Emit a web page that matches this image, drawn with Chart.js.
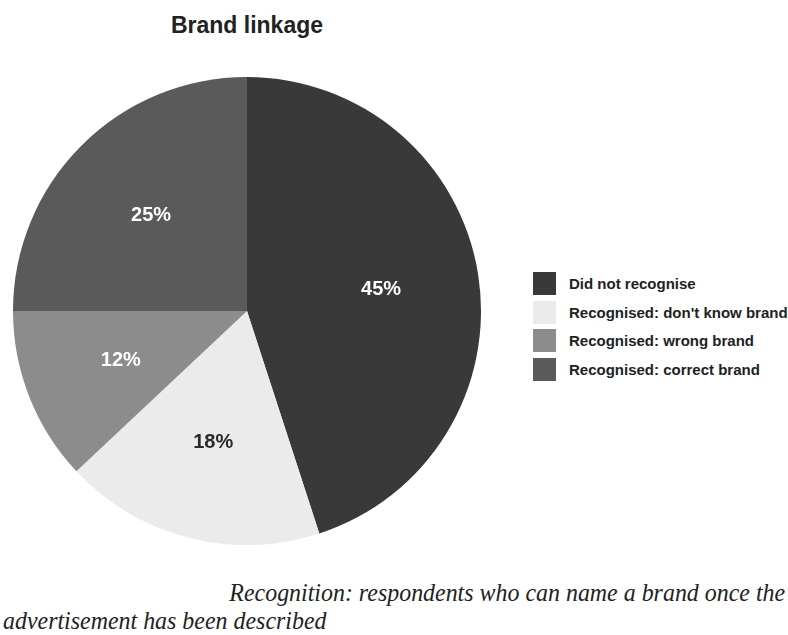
<!DOCTYPE html>
<html>
<head>
<meta charset="utf-8">
<script src="https://cdn.jsdelivr.net/npm/chart.js@4"></script>
<style>
  body { margin: 0; background: #fff; }
  #wrap { position: relative; width: 788px; height: 635px; overflow: hidden; font-family: "Liberation Sans", Arial, sans-serif; }
  #title { position: absolute; left: 0; width: 494px; top: 12px; text-align: center; font-weight: bold; font-size: 23px; color: #222; }
  #pie { position: absolute; left: 13px; top: 77px; width: 468px; height: 468px; }
  #legend { position: absolute; left: 533px; top: 269px; white-space: nowrap; }
  .row { height: 28.7px; display: flex; align-items: center; }
  .box { width: 23px; height: 23px; margin-right: 13px; }
  .row span { font-weight: bold; font-size: 15px; color: #222; }
  .cap { position: absolute; font-family: "Liberation Serif", "Times New Roman", serif; font-style: italic; font-size: 26px; color: #222; white-space: nowrap; }
</style>
</head>
<body>
<div id="wrap">
  <div id="title">Brand linkage</div>
  <div id="pie"><canvas id="myChart"></canvas></div>
  <div id="legend"></div>
  <div class="cap" style="right:3px; top:578px; transform:scaleX(0.92); transform-origin:right;">Recognition: respondents who can name a brand once the</div>
  <div class="cap" style="left:3px; top:606px; transform:scaleX(0.92); transform-origin:left;">advertisement has been described</div>
</div>
<script>
const categories = [
  "Did not recognise",
  "Recognised: don't know brand",
  "Recognised: wrong brand",
  "Recognised: correct brand",
];
const shares = [45, 18, 12, 25];

const sliceColors = ["#393939", "#ebebeb", "#8c8c8c", "#5a5a5a"];
const labelColors = ["#fff", "#2a2a2a", "#fff", "#fff"];

// percent labels inside each slice
const sliceLabels = {
  id: "sliceLabels",
  afterDatasetsDraw(chart) {
    const ctx = chart.ctx;
    const meta = chart.getDatasetMeta(0);
    ctx.save();
    ctx.font = "bold 20px 'Liberation Sans', Arial, sans-serif";
    ctx.textAlign = "center";
    ctx.textBaseline = "middle";
    meta.data.forEach(function (arc, i) {
      const p = arc.getProps(["x", "y", "startAngle", "endAngle", "outerRadius"], true);
      const mid = (p.startAngle + p.endAngle) / 2;
      const r = p.outerRadius * 0.58;
      ctx.fillStyle = labelColors[i];
      ctx.fillText(shares[i] + "%", p.x + Math.cos(mid) * r, p.y + Math.sin(mid) * r);
    });
    ctx.restore();
  }
};

new Chart(document.getElementById("myChart"), {
  type: "pie",
  data: {
    labels: categories,
    datasets: [{
      data: shares,
      backgroundColor: sliceColors,
      borderWidth: 0,
      hoverOffset: 0,
    }],
  },
  options: {
    responsive: true,
    maintainAspectRatio: false,
    animation: false,
    layout: { padding: 0 },
    plugins: {
      legend: { display: false },
      tooltip: { enabled: false },
    },
  },
  plugins: [sliceLabels],
});

// legend built from the same arrays
var legend = document.getElementById("legend");
categories.forEach(function (name, i) {
  var row = document.createElement("div");
  row.className = "row";
  var box = document.createElement("div");
  box.className = "box";
  box.style.background = sliceColors[i];
  var txt = document.createElement("span");
  txt.textContent = name;
  row.appendChild(box);
  row.appendChild(txt);
  legend.appendChild(row);
});
</script>
</body>
</html>
